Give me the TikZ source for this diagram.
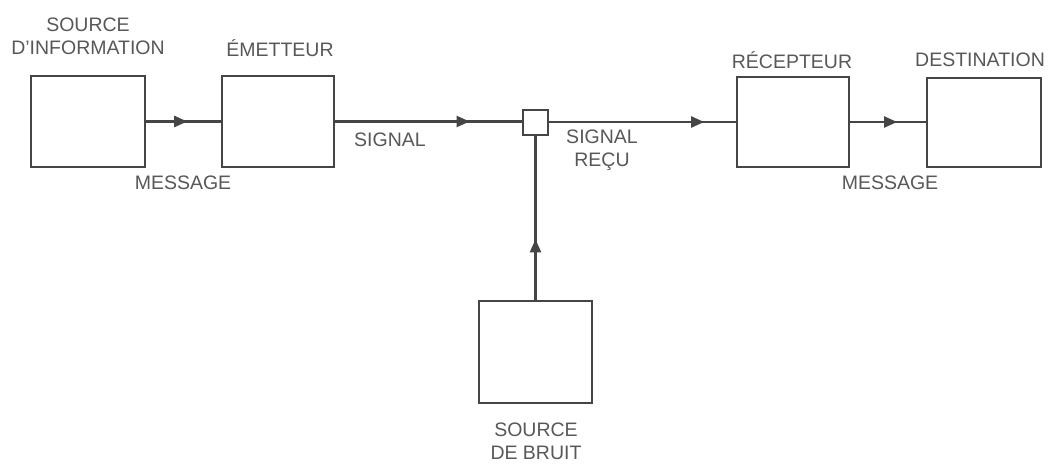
\documentclass[tikz,border=0pt]{standalone}
\usepackage{fontspec}
\setmainfont{Liberation Sans}
\usetikzlibrary{arrows.meta,decorations.markings}
\definecolor{ln}{HTML}{454545}
\definecolor{tx}{HTML}{585858}
\tikzset{
  blk/.style={draw=ln,line width=2.2pt,minimum width=#1,inner sep=0pt},
  lbl/.style={text=tx,font=\fontsize{19.5}{23}\selectfont,inner sep=0pt,align=center},
  conn/.style={draw=ln,line width=2.2pt,postaction={decorate},
    decoration={markings,mark=at position #1 with {\arrow{Triangle[length=13pt,width=11pt]}}}}
}
\begin{document}
\begin{tikzpicture}[x=1pt,y=-1pt]
\useasboundingbox[fill=white] (0,0) rectangle (1048,463);
\node[blk=114pt,minimum height=91pt] (src) at (88,121.5) {};
\node[blk=112pt,minimum height=91pt] (em) at (278,121.5) {};
\node[blk=25pt,minimum height=25pt] (mix) at (535.5,122.5) {};
\node[blk=112pt,minimum height=90pt] (rec) at (793,122) {};
\node[blk=114pt,minimum height=89pt] (dst) at (984,122.5) {};
\node[blk=113pt,minimum height=102pt] (noise) at (535.5,352) {};

\draw[conn=0.55] (src.east) -- (em.west);
\draw[conn=0.72] (em.east) -- (mix.west |- em.east);
\draw[conn=0.83] (mix.east |- rec.west) -- (rec.west);
\draw[conn=0.62] (rec.east) -- (dst.west |- rec.east);
\draw[conn=0.37] (noise.north) -- (mix.south);

\node[lbl] (t1) at (88,36.5) {SOURCE\\D'INFORMATION};
\node[lbl] (t2) at (280,48) {ÉMETTEUR};
\node[lbl] (t3) at (792,60) {RÉCEPTEUR};
\node[lbl] (t4) at (980,60) {DESTINATION};
\node[lbl] (t5) at (183,183) {MESSAGE};
\node[lbl] (t6) at (390,140) {SIGNAL};
\node[lbl] (t7) at (602,150) {SIGNAL\\REÇU};
\node[lbl] (t8) at (890,183) {MESSAGE};
\node[lbl] (t9) at (536,441) {SOURCE\\DE BRUIT};
\end{tikzpicture}
\end{document}
